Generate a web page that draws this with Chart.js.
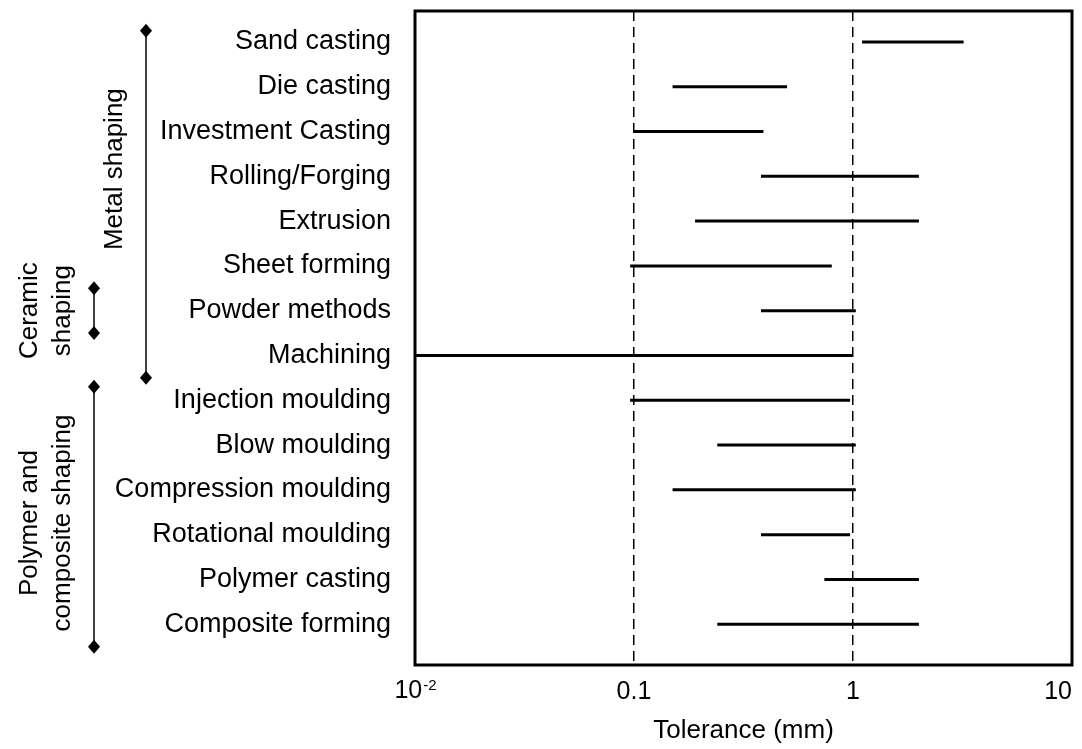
<!DOCTYPE html>
<html>
<head>
<meta charset="utf-8">
<script src="https://cdn.jsdelivr.net/npm/chart.js@4.4.1/dist/chart.umd.min.js"></script>
<style>
  body { margin: 0; background: #fff; }
  #wrap { width: 1082px; height: 749px; }
</style>
</head>
<body>
<div id="wrap"><canvas id="chart"></canvas></div>
<script>
// processes, top to bottom
const processes = [
  'Sand casting', 'Die casting', 'Investment Casting', 'Rolling/Forging',
  'Extrusion', 'Sheet forming', 'Powder methods', 'Machining',
  'Injection moulding', 'Blow moulding', 'Compression moulding',
  'Rotational moulding', 'Polymer casting', 'Composite forming'
]
// tolerance range in mm
const tolLow = [1.1, 0.15, 0.1, 0.38, 0.19, 0.096, 0.38, 0.01, 0.096, 0.24, 0.15, 0.38, 0.74, 0.24]
const tolHigh = [3.2, 0.5, 0.39, 2, 2, 0.8, 1.03, 1, 0.97, 1.03, 1.03, 0.97, 2, 2]

const xTicks = [0.01, 0.1, 1, 10]
const refLines = [0.1, 1]

// process groups drawn on the left (row spans)
const groupNames = [['Metal shaping'], ['Ceramic', 'shaping'], ['Polymer and', 'composite shaping']]
const groupFrom = [-0.25, 5.5, 7.7]
const groupTo = [7.5, 6.5, 13.5]
const groupMid = [2.84, 6.0, 10.74]

const FONT = '"Liberation Sans", Arial, sans-serif'
const INK = '#000'
const groupLineX = [146, 94, 94]

const noPad = (s) => {
  s.paddingTop = 0
  s.paddingBottom = 0
  s.paddingLeft = 0
  s.paddingRight = 0
}

const extras = {
  id: 'extras',
  afterDraw(chart) {
    const { ctx, chartArea: a, scales } = chart
    const x = scales.x
    const y = scales.y
    ctx.save()
    // frame
    ctx.strokeStyle = '#000'
    ctx.lineWidth = 3
    ctx.strokeRect(a.left, a.top, a.right - a.left, a.bottom - a.top)

    // 10^-2 tick label
    const px = x.getPixelForValue(0.01)
    ctx.fillStyle = INK
    ctx.textAlign = 'left'
    ctx.textBaseline = 'alphabetic'
    ctx.font = '25px ' + FONT
    const w1 = ctx.measureText('10').width
    ctx.font = '15px ' + FONT
    const w2 = ctx.measureText('-2').width
    const sx = px - (w1 + w2) / 2
    ctx.font = '25px ' + FONT
    ctx.fillText('10', sx, 698)
    ctx.font = '15px ' + FONT
    ctx.fillText('-2', sx + w1 + 1, 690)

    // group brackets
    groupNames.forEach((lines, g) => {
      const gx = groupLineX[g]
      const y0 = y.getPixelForValue(groupFrom[g])
      const y1 = y.getPixelForValue(groupTo[g])
      ctx.strokeStyle = '#000'
      ctx.fillStyle = '#000'
      ctx.lineWidth = 1.5
      ctx.beginPath()
      ctx.moveTo(gx, y0)
      ctx.lineTo(gx, y1)
      ctx.stroke()
      ;[y0, y1].forEach((yy) => {
        ctx.beginPath()
        ctx.moveTo(gx, yy - 7)
        ctx.lineTo(gx + 6, yy)
        ctx.lineTo(gx, yy + 7)
        ctx.lineTo(gx - 6, yy)
        ctx.closePath()
        ctx.fill()
      })
      const n = lines.length
      const cx = gx - 31 - 33 * (n - 1) / 2
      const cy = y.getPixelForValue(groupMid[g])
      ctx.save()
      ctx.translate(cx, cy)
      ctx.rotate(-Math.PI / 2)
      ctx.fillStyle = INK
      ctx.font = '26px ' + FONT
      ctx.textAlign = 'center'
      ctx.textBaseline = 'middle'
      lines.forEach((t, i) => {
        ctx.fillText(t, 0, (i - (n - 1) / 2) * 33)
      })
      ctx.restore()
    })
    ctx.restore()
  }
}

const datasets = processes.map((p, i) => ({
  label: p,
  data: [{ x: tolLow[i], y: i }, { x: tolHigh[i], y: i }],
  showLine: true,
  borderColor: '#000',
  borderWidth: 3,
  borderCapStyle: 'butt',
  pointRadius: 0,
  pointHoverRadius: 0
}))

new Chart(document.getElementById('chart'), {
  type: 'scatter',
  data: { datasets: datasets },
  plugins: [extras],
  options: {
    responsive: true,
    maintainAspectRatio: false,
    animation: false,
    layout: { padding: { top: 11, right: 10, left: 0, bottom: 0 } },
    plugins: {
      legend: { display: false },
      tooltip: { enabled: false }
    },
    scales: {
      x: {
        type: 'logarithmic',
        min: 0.01,
        max: 10,
        afterBuildTicks: (s) => {
          s.ticks = xTicks.map((v) => ({ value: v }))
        },
        afterFit: (s) => {
          s.height = 84
          noPad(s)
        },
        ticks: {
          color: INK,
          font: { family: FONT, size: 25 },
          padding: 12,
          align: 'inner',
          maxRotation: 0,
          autoSkip: false,
          callback: (v) => (v === 0.01 ? '' : String(v))
        },
        grid: {
          drawTicks: false,
          lineWidth: 1.5,
          color: (c) => (c.tick && refLines.includes(c.tick.value) ? '#000' : 'rgba(0,0,0,0)')
        },
        border: { display: false, dash: [10, 6] },
        title: {
          display: true,
          text: 'Tolerance (mm)',
          color: INK,
          font: { family: FONT, size: 26 },
          padding: { top: 6, bottom: 3 }
        }
      },
      y: {
        type: 'linear',
        reverse: true,
        min: -0.69,
        max: 13.91,
        afterBuildTicks: (s) => {
          s.ticks = processes.map((p, i) => ({ value: i }))
        },
        afterFit: (s) => {
          s.width = 415
          noPad(s)
        },
        ticks: {
          color: INK,
          font: { family: FONT, size: 27 },
          padding: 16,
          autoSkip: false,
          callback: (v) => processes[v] ?? ''
        },
        grid: { display: false },
        border: { display: false }
      }
    }
  }
})
</script>
</body>
</html>
